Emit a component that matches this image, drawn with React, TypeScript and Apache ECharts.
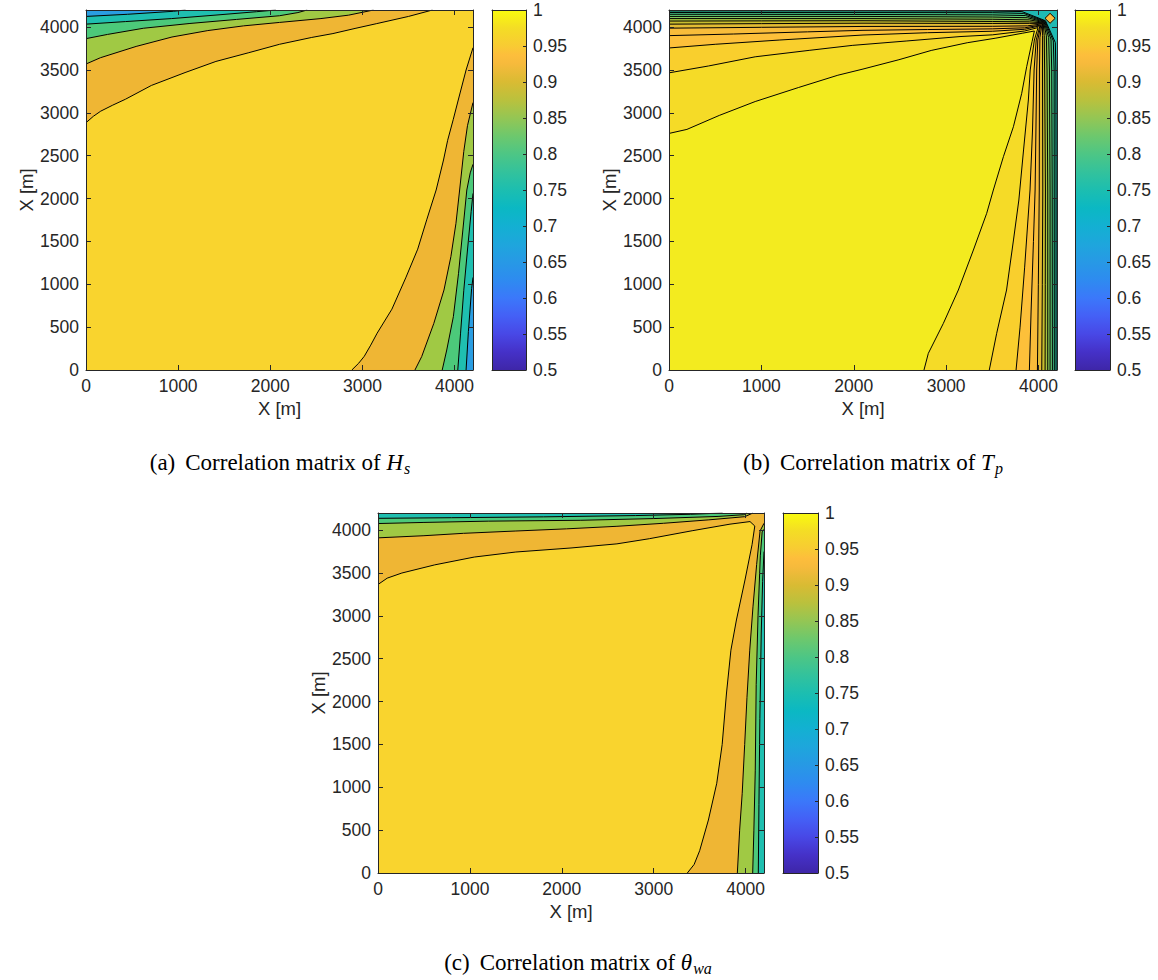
import React, { useEffect, useRef } from "react";
import * as echarts from "echarts";

type Pt = [number, number];

// ---------- shared axis data ----------
const AXIS_MAX = 4200;
const xTicks = [0, 1000, 2000, 3000, 4000];
const yTicks = [0, 500, 1000, 1500, 2000, 2500, 3000, 3500, 4000];
const cbTicks = [0.5, 0.55, 0.6, 0.65, 0.7, 0.75, 0.8, 0.85, 0.9, 0.95, 1];
const cbMin = 0.5;
const cbMax = 1;

// Correlation matrices are symmetric: each contour is stored as its lower/right half,
// from the bottom edge upward (to the right edge or to the diagonal); the other half is its mirror.

// ---------- (a) Hs ----------
const hsLevels = [0.75, 0.8, 0.85, 0.9, 0.95];
const hs075: Pt[] = [[4125, 0], [4150, 450], [4185, 950], [4200, 1080]];
const hs080: Pt[] = [[4035, 0], [4065, 430], [4100, 930], [4140, 1400], [4180, 1850], [4200, 2060]];
const hs085: Pt[] = [[3866, 0], [3915, 233], [3987, 622], [4043, 1128], [4090, 1633], [4133, 2100], [4170, 2300], [4200, 2400]];
const hs090: Pt[] = [[3570, 0], [3643, 156], [3775, 544], [3885, 933], [3960, 1322], [4015, 1711], [4055, 2100], [4100, 2550], [4140, 2850], [4200, 3120]];
const hs095: Pt[] = [[2885, 0], [2960, 80], [3020, 160], [3090, 290], [3160, 430], [3320, 710], [3470, 1075], [3600, 1410], [3700, 1760], [3800, 2100], [3880, 2450], [3925, 2680], [3985, 2920], [4040, 3150], [4125, 3500], [4200, 3760]];
const hsHalves = [hs075, hs080, hs085, hs090, hs095];
const hsFill = ["#1FBFB0", "#4CC97A", "#A0C944", "#EFB634", "#F9D42E"];
const hsBelow = "#2A9DE2";

// ---------- (b) Tp (outermost contour first) ----------
const tp12: Pt[] = [[4190, 0], [4190, 2100], [4188, 3500], [4182, 3820], [4075, 4075]];
const tp11: Pt[] = [[4171, 0], [4170, 2100], [4169, 3500], [4160, 3840], [4070, 4070]];
const tp10: Pt[] = [[4150, 0], [4148, 2100], [4143, 3500], [4135, 3860], [4065, 4065]];
const tp09: Pt[] = [[4125, 0], [4125, 2100], [4118, 3500], [4110, 3880], [4060, 4060]];
const tp08: Pt[] = [[4100, 0], [4100, 2100], [4092, 3500], [4085, 3900], [4055, 4055]];
const tp07: Pt[] = [[4071, 0], [4073, 1000], [4075, 2100], [4066, 3500], [4062, 3900], [4050, 4050]];
const tp06: Pt[] = [[4035, 0], [4041, 1000], [4046, 2100], [4043, 3500], [4044, 3900], [4044, 4044]];
const tp05: Pt[] = [[3988, 0], [3998, 1000], [4008, 2100], [4010, 3500], [4015, 3880], [4038, 4038]];
const tp04: Pt[] = [[3901, 0], [3920, 700], [3945, 1500], [3963, 2100], [3972, 2800], [3980, 3500], [3992, 3850], [4025, 4025]];
const tp03: Pt[] = [[3757, 0], [3800, 500], [3850, 1200], [3908, 2100], [3935, 2800], [3952, 3500], [3975, 3850], [4015, 4015]];
const tp02: Pt[] = [[3467, 0], [3547, 428], [3654, 933], [3729, 1517], [3787, 1983], [3838, 2567], [3890, 3150], [3910, 3500], [3955, 3850], [3995, 3995]];
const tp01: Pt[] = [[2760, 0], [2807, 194], [2970, 544], [3132, 933], [3295, 1400], [3439, 1828], [3511, 2100], [3620, 2489], [3728, 2838], [3818, 3228], [3872, 3539], [3930, 3830], [3955, 3955]];
const tpHalves = [tp12, tp11, tp10, tp09, tp08, tp07, tp06, tp05, tp04, tp03, tp02, tp01];
const tpFill = ["#2BBF9E", "#40C489", "#5EC975", "#80C85C", "#A4C440", "#C8BE2E", "#E3BC33", "#F8BC3A", "#FDC03A", "#F9CF2D", "#F5DB27", "#F3EB1F"];
const tpBelow = "#1FBAB3";
const tpCornerPatch: Pt[] = [[4125, 4045], [4180, 4103], [4125, 4161], [4070, 4103]];
const tpCornerFill = "#FCBB3D";

// ---------- (c) theta_wa ----------
const twLevels = [0.8, 0.85, 0.9, 0.95];
const tw080: Pt[] = [[4138, 0], [4145, 800], [4155, 1800], [4170, 2800], [4185, 3400], [4200, 3750]];
const tw085: Pt[] = [[4077, 0], [4090, 500], [4105, 1200], [4115, 2200], [4135, 3000], [4160, 3700], [4180, 3980], [4200, 4010]];
const tw090: Pt[] = [[3910, 0], [3935, 500], [3963, 930], [3990, 1500], [4015, 2050], [4045, 2600], [4080, 3105], [4120, 3600], [4157, 3990], [4200, 4080]];
const tw095: Pt[] = [[3366, 0], [3440, 100], [3500, 260], [3595, 618], [3686, 1047], [3745, 1500], [3792, 2100], [3840, 2600], [3900, 2952], [3993, 3418], [4070, 3830], [4100, 4048]];
const twHalves = [tw080, tw085, tw090, tw095];
const twFill = ["#4CC97A", "#A0C944", "#EFB634", "#F9D42E"];
const twBelow = "#1FBFB0";

// ---------- colormap (parula) ----------
const parulaStops: [number, string][] = [
  [0, "#3E26A8"], [0.05, "#4531C8"], [0.1, "#4848E6"], [0.15, "#4460F6"], [0.2, "#3B78FA"],
  [0.25, "#2E8BF0"], [0.3, "#2799E5"], [0.35, "#1EA6DC"], [0.4, "#13B0D2"], [0.45, "#0BB8C3"],
  [0.5, "#1CBEB0"], [0.55, "#33C29C"], [0.6, "#4DC685"], [0.65, "#6DC86D"], [0.7, "#94C654"],
  [0.75, "#BAC13D"], [0.8, "#D9BB33"], [0.85, "#F6BA3C"], [0.875, "#FDBE3C"], [0.9, "#F8CB33"],
  [0.95, "#F4DD25"], [1, "#F9FB0E"],
];

// ---------- styles ----------
const FONT = "'Liberation Sans', Arial, Helvetica, sans-serif";
const SERIF = "'Liberation Serif', 'Times New Roman', serif";
const TEXT = "#262626";
const AX_LINE = { color: "#262626", width: 1 };
const TICK_FONT = 17.5;
const NAME_FONT = 18.5;

const layouts = [
  { plot: { left: 86, top: 10, width: 387, height: 360 }, cb: { left: 492, top: 10, width: 34, height: 360 } },
  { plot: { left: 669, top: 10, width: 388, height: 360 }, cb: { left: 1075, top: 10, width: 35, height: 360 } },
  { plot: { left: 378, top: 513, width: 386, height: 360 }, cb: { left: 783, top: 513, width: 35, height: 360 } },
];

const plain = (v: number) => String(v);

function mirrorOf(half: Pt[]): Pt[] {
  return half.slice().reverse().map(([x, y]) => [y, x] as Pt);
}

function regionPolygon(half: Pt[]): Pt[] {
  const last = half[half.length - 1];
  const mirror = mirrorOf(half);
  const pts: Pt[] = [[0, 0], ...half];
  if (last[0] >= AXIS_MAX) pts.push([AXIS_MAX, AXIS_MAX]);
  pts.push(...(last[0] === last[1] ? mirror.slice(1) : mirror));
  return pts;
}

function contourPaths(half: Pt[]): Pt[][] {
  const last = half[half.length - 1];
  const mirror = mirrorOf(half);
  if (last[0] >= AXIS_MAX) return [half, mirror];
  return [[...half, ...(last[0] === last[1] ? mirror.slice(1) : mirror)]];
}

function buildPanel(
  p: number,
  halves: Pt[][],
  fills: string[],
  below: string,
  extras: { poly: Pt[]; fill: string }[]
) {
  const lay = layouts[p];
  const gPlot = p * 2;
  const gCb = p * 2 + 1;
  const a0 = p * 4;
  const polys = halves.map(regionPolygon);
  const fillList = [...fills];
  const paths = halves.flatMap(contourPaths);
  extras.forEach((e) => {
    polys.push(e.poly);
    fillList.push(e.fill);
    paths.push([...e.poly, e.poly[0]]);
  });

  const grids = [
    { ...lay.plot, show: true, backgroundColor: below, borderWidth: 0, containLabel: false },
    { ...lay.cb, show: false, containLabel: false },
  ];

  const tickStyle = { show: true, inside: true, length: 5, lineStyle: AX_LINE };
  const labelStyle = { color: TEXT, fontSize: TICK_FONT, fontFamily: FONT, margin: 7, formatter: plain };
  const xAxes: any[] = [
    {
      type: "value", gridIndex: gPlot, min: 0, max: AXIS_MAX, position: "bottom", z: 10,
      axisLine: { show: true, onZero: false, lineStyle: AX_LINE },
      axisTick: { ...tickStyle, customValues: xTicks },
      axisLabel: { show: true, customValues: xTicks, ...labelStyle },
      splitLine: { show: false },
      name: "X [m]", nameLocation: "middle", nameGap: 29,
      nameTextStyle: { color: TEXT, fontSize: NAME_FONT, fontFamily: FONT },
    },
    {
      type: "value", gridIndex: gPlot, min: 0, max: AXIS_MAX, position: "top", z: 10,
      axisLine: { show: true, onZero: false, lineStyle: AX_LINE },
      axisTick: { ...tickStyle, customValues: xTicks },
      axisLabel: { show: false }, splitLine: { show: false },
    },
    {
      type: "value", gridIndex: gCb, min: 0, max: 1, position: "bottom", z: 10,
      axisLine: { show: true, onZero: false, lineStyle: AX_LINE },
      axisTick: { show: false }, axisLabel: { show: false }, splitLine: { show: false },
    },
    {
      type: "value", gridIndex: gCb, min: 0, max: 1, position: "top", z: 10,
      axisLine: { show: true, onZero: false, lineStyle: AX_LINE },
      axisTick: { show: false }, axisLabel: { show: false }, splitLine: { show: false },
    },
  ];
  const yAxes: any[] = [
    {
      type: "value", gridIndex: gPlot, min: 0, max: AXIS_MAX, position: "left", z: 10,
      axisLine: { show: true, onZero: false, lineStyle: AX_LINE },
      axisTick: { ...tickStyle, customValues: yTicks },
      axisLabel: { show: true, customValues: yTicks, ...labelStyle },
      splitLine: { show: false },
      name: "X [m]", nameLocation: "middle", nameGap: 50,
      nameTextStyle: { color: TEXT, fontSize: NAME_FONT, fontFamily: FONT },
    },
    {
      type: "value", gridIndex: gPlot, min: 0, max: AXIS_MAX, position: "right", z: 10,
      axisLine: { show: true, onZero: false, lineStyle: AX_LINE },
      axisTick: { ...tickStyle, customValues: yTicks },
      axisLabel: { show: false }, splitLine: { show: false },
    },
    {
      type: "value", gridIndex: gCb, min: cbMin, max: cbMax, position: "left", z: 10,
      axisLine: { show: true, onZero: false, lineStyle: AX_LINE },
      axisTick: { show: false }, axisLabel: { show: false }, splitLine: { show: false },
    },
    {
      type: "value", gridIndex: gCb, min: cbMin, max: cbMax, position: "right", z: 10,
      axisLine: { show: true, onZero: false, lineStyle: AX_LINE },
      axisTick: { show: true, inside: true, length: 3, customValues: cbTicks, lineStyle: AX_LINE },
      axisLabel: { show: true, customValues: cbTicks, ...labelStyle },
      splitLine: { show: false },
    },
  ];

  const series: any[] = [
    {
      type: "custom",
      coordinateSystem: "cartesian2d",
      xAxisIndex: a0,
      yAxisIndex: a0,
      clip: true,
      silent: true,
      z: 2,
      data: polys.map((_, i) => [i, 0]),
      renderItem: (params: any, api: any) => {
        const i = params.dataIndex;
        const pts = polys[i].map((q) => api.coord(q));
        return {
          type: "polygon",
          shape: { points: pts },
          style: { fill: fillList[i], stroke: fillList[i], lineWidth: 0.6 },
        };
      },
    },
    {
      type: "lines",
      coordinateSystem: "cartesian2d",
      xAxisIndex: a0,
      yAxisIndex: a0,
      polyline: true,
      silent: true,
      z: 3,
      data: paths.map((c) => ({ coords: c })),
      lineStyle: { color: "#000", width: 1, opacity: 1 },
    },
    {
      type: "custom",
      coordinateSystem: "cartesian2d",
      xAxisIndex: a0 + 2,
      yAxisIndex: a0 + 2,
      silent: true,
      z: 2,
      data: [[0, cbMin]],
      renderItem: (params: any, api: any) => {
        const p0 = api.coord([0, cbMin]);
        const p1 = api.coord([1, cbMax]);
        return {
          type: "rect",
          shape: { x: p0[0], y: p1[1], width: p1[0] - p0[0], height: p0[1] - p1[1] },
          style: {
            fill: new echarts.graphic.LinearGradient(
              0, 1, 0, 0,
              parulaStops.map(([o, c]) => ({ offset: o, color: c }))
            ),
          },
        };
      },
    },
  ];

  return { grids, xAxes, yAxes, series };
}

function caption(x: number, y: number, text: string) {
  return {
    type: "text",
    x,
    y,
    z: 20,
    style: {
      text,
      align: "center",
      verticalAlign: "middle",
      fill: "#000",
      rich: {
        p: { fontFamily: SERIF, fontSize: 23, fill: "#000", padding: [0, 10, 0, 0] },
        n: { fontFamily: SERIF, fontSize: 23, fill: "#000" },
        i: { fontFamily: SERIF, fontSize: 23, fontStyle: "italic", fill: "#000" },
        s: { fontFamily: SERIF, fontSize: 16, fontStyle: "italic", fill: "#000", padding: [12, 0, 0, 1] },
      },
    },
  };
}

export default function App() {
  const ref = useRef<HTMLDivElement>(null);

  useEffect(() => {
    document.body.style.margin = "0";
    if (!ref.current) return;
    const chart = echarts.init(ref.current, undefined, { renderer: "svg" });

    const panels = [
      buildPanel(0, hsHalves, hsFill, hsBelow, []),
      buildPanel(1, tpHalves, tpFill, tpBelow, [{ poly: tpCornerPatch, fill: tpCornerFill }]),
      buildPanel(2, twHalves, twFill, twBelow, []),
    ];

    chart.setOption({
      animation: false,
      backgroundColor: "#fff",
      grid: panels.flatMap((p) => p.grids),
      xAxis: panels.flatMap((p) => p.xAxes),
      yAxis: panels.flatMap((p) => p.yAxes),
      series: panels.flatMap((p) => p.series),
      graphic: [
        caption(280, 462, "{p|(a)}{n|Correlation matrix of }{i|H}{s|s}"),
        caption(873, 462, "{p|(b)}{n|Correlation matrix of }{i|T}{s|p}"),
        caption(578, 962, "{p|(c)}{n|Correlation matrix of }{i|θ}{s|wa}"),
      ],
    });

    return () => chart.dispose();
  }, []);

  return <div ref={ref} style={{ width: 1158, height: 980 }} />;
}

// levels kept for reference of the contour values drawn above
export const contourLevels = { hsLevels, twLevels };
